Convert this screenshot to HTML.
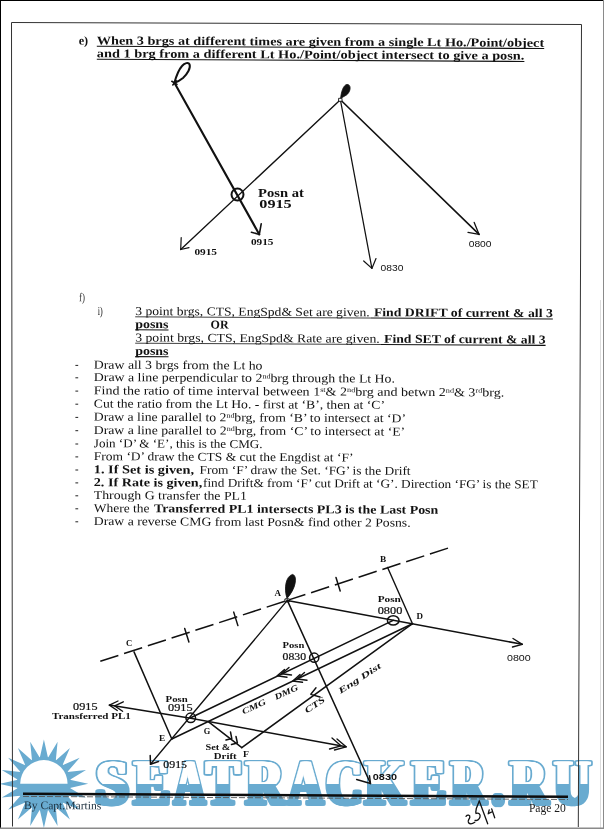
<!DOCTYPE html>
<html><head><meta charset="utf-8"><title>Page 20</title>
<style>
html,body{margin:0;padding:0;background:#fff;}
body{width:604px;height:829px;overflow:hidden;position:relative;font-family:"Liberation Serif",serif;}
svg{position:absolute;left:0;top:0;display:block;will-change:transform;}
text{white-space:pre;}
</style></head><body>
<svg width="604" height="829" viewBox="0 0 604 829">
<defs>
<linearGradient id="wm" gradientUnits="userSpaceOnUse" x1="0" y1="700" x2="0" y2="860">
<stop offset="0" stop-color="#ffffff"/><stop offset="0.5240" stop-color="#ffffff"/><stop offset="0.5241" stop-color="#69abd0"/><stop offset="1" stop-color="#69abd0"/>
</linearGradient>
</defs>
<rect x="0" y="0" width="604" height="829" fill="#ffffff"/>

<g id="watermark">
<polygon points="43.9,739.5 48.0,757.8 57.6,741.7 55.8,760.4 69.9,748.0 62.5,765.2 79.7,757.8 67.3,771.9 86.0,770.1 69.9,779.7 88.2,783.8 69.9,787.9 86.0,797.5 67.3,795.7 79.7,809.8 62.5,802.4 69.9,819.6 55.8,807.2 57.6,825.9 48.0,809.8 43.9,828.1 39.8,809.8 30.2,825.9 32.0,807.2 17.9,819.6 25.3,802.4 8.1,809.8 20.5,795.7 1.8,797.5 17.9,787.9 -0.4,783.8 17.9,779.7 1.8,770.1 20.5,771.9 8.1,757.8 25.3,765.2 17.9,748.0 32.0,760.4 30.2,741.7 39.8,757.8" fill="#69abd0"/>
<circle cx="43.9" cy="783.8" r="26.8" fill="#69abd0"/>
<path d="M20.2,783.8 A23.7,23.7 0 0 1 67.6,783.8 Z" fill="#fff"/>
<g transform="translate(-2.2 0)" fill="#69abd0" stroke="#69abd0" stroke-width="3.4" style="font-family:&quot;Liberation Serif&quot;,serif;font-weight:bold;font-size:63.6px;" stroke-linejoin="round"><text x="0" y="804.5" transform="translate(95.96 0) scale(0.9120 1)">S</text><text x="0" y="804.5" transform="translate(134.14 0) scale(0.8329 1)">E</text><text x="0" y="804.5" transform="translate(174.64 0) scale(0.6515 1)">A</text><text x="0" y="804.5" transform="translate(206.27 0) scale(0.7836 1)">T</text><text x="0" y="804.5" transform="translate(246.15 0) scale(0.8195 1)">R</text><text x="0" y="804.5" transform="translate(288.58 0) scale(0.7407 1)">A</text><text x="0" y="804.5" transform="translate(326.33 0) scale(0.7769 1)">C</text><text x="0" y="804.5" transform="translate(365.38 0) scale(0.7917 1)">K</text><text x="0" y="804.5" transform="translate(412.20 0) scale(0.7804 1)">E</text><text x="0" y="804.5" transform="translate(451.24 0) scale(0.7358 1)">R</text><text x="0" y="804.5" transform="translate(510.48 0) scale(0.7975 1)">R</text><text x="0" y="804.5" transform="translate(554.30 0) scale(0.7883 1)">U</text><ellipse cx="498.1" cy="800.2" rx="3.1" ry="5.4"/></g>
<g transform="translate(-1.1 0)" fill="#69abd0" stroke="#69abd0" stroke-width="3.4" style="font-family:&quot;Liberation Serif&quot;,serif;font-weight:bold;font-size:63.6px;" stroke-linejoin="round"><text x="0" y="804.5" transform="translate(95.96 0) scale(0.9120 1)">S</text><text x="0" y="804.5" transform="translate(134.14 0) scale(0.8329 1)">E</text><text x="0" y="804.5" transform="translate(174.64 0) scale(0.6515 1)">A</text><text x="0" y="804.5" transform="translate(206.27 0) scale(0.7836 1)">T</text><text x="0" y="804.5" transform="translate(246.15 0) scale(0.8195 1)">R</text><text x="0" y="804.5" transform="translate(288.58 0) scale(0.7407 1)">A</text><text x="0" y="804.5" transform="translate(326.33 0) scale(0.7769 1)">C</text><text x="0" y="804.5" transform="translate(365.38 0) scale(0.7917 1)">K</text><text x="0" y="804.5" transform="translate(412.20 0) scale(0.7804 1)">E</text><text x="0" y="804.5" transform="translate(451.24 0) scale(0.7358 1)">R</text><text x="0" y="804.5" transform="translate(510.48 0) scale(0.7975 1)">R</text><text x="0" y="804.5" transform="translate(554.30 0) scale(0.7883 1)">U</text><ellipse cx="498.1" cy="800.2" rx="3.1" ry="5.4"/></g>
<g transform="translate(0 0)" fill="#69abd0" stroke="#69abd0" stroke-width="3.4" style="font-family:&quot;Liberation Serif&quot;,serif;font-weight:bold;font-size:63.6px;" stroke-linejoin="round"><text x="0" y="804.5" transform="translate(95.96 0) scale(0.9120 1)">S</text><text x="0" y="804.5" transform="translate(134.14 0) scale(0.8329 1)">E</text><text x="0" y="804.5" transform="translate(174.64 0) scale(0.6515 1)">A</text><text x="0" y="804.5" transform="translate(206.27 0) scale(0.7836 1)">T</text><text x="0" y="804.5" transform="translate(246.15 0) scale(0.8195 1)">R</text><text x="0" y="804.5" transform="translate(288.58 0) scale(0.7407 1)">A</text><text x="0" y="804.5" transform="translate(326.33 0) scale(0.7769 1)">C</text><text x="0" y="804.5" transform="translate(365.38 0) scale(0.7917 1)">K</text><text x="0" y="804.5" transform="translate(412.20 0) scale(0.7804 1)">E</text><text x="0" y="804.5" transform="translate(451.24 0) scale(0.7358 1)">R</text><text x="0" y="804.5" transform="translate(510.48 0) scale(0.7975 1)">R</text><text x="0" y="804.5" transform="translate(554.30 0) scale(0.7883 1)">U</text><ellipse cx="498.1" cy="800.2" rx="3.1" ry="5.4"/></g>
<g transform="translate(1.1 0)" fill="#69abd0" stroke="#69abd0" stroke-width="3.4" style="font-family:&quot;Liberation Serif&quot;,serif;font-weight:bold;font-size:63.6px;" stroke-linejoin="round"><text x="0" y="804.5" transform="translate(95.96 0) scale(0.9120 1)">S</text><text x="0" y="804.5" transform="translate(134.14 0) scale(0.8329 1)">E</text><text x="0" y="804.5" transform="translate(174.64 0) scale(0.6515 1)">A</text><text x="0" y="804.5" transform="translate(206.27 0) scale(0.7836 1)">T</text><text x="0" y="804.5" transform="translate(246.15 0) scale(0.8195 1)">R</text><text x="0" y="804.5" transform="translate(288.58 0) scale(0.7407 1)">A</text><text x="0" y="804.5" transform="translate(326.33 0) scale(0.7769 1)">C</text><text x="0" y="804.5" transform="translate(365.38 0) scale(0.7917 1)">K</text><text x="0" y="804.5" transform="translate(412.20 0) scale(0.7804 1)">E</text><text x="0" y="804.5" transform="translate(451.24 0) scale(0.7358 1)">R</text><text x="0" y="804.5" transform="translate(510.48 0) scale(0.7975 1)">R</text><text x="0" y="804.5" transform="translate(554.30 0) scale(0.7883 1)">U</text><ellipse cx="498.1" cy="800.2" rx="3.1" ry="5.4"/></g>
<g transform="translate(2.2 0)" fill="#69abd0" stroke="#69abd0" stroke-width="3.4" style="font-family:&quot;Liberation Serif&quot;,serif;font-weight:bold;font-size:63.6px;" stroke-linejoin="round"><text x="0" y="804.5" transform="translate(95.96 0) scale(0.9120 1)">S</text><text x="0" y="804.5" transform="translate(134.14 0) scale(0.8329 1)">E</text><text x="0" y="804.5" transform="translate(174.64 0) scale(0.6515 1)">A</text><text x="0" y="804.5" transform="translate(206.27 0) scale(0.7836 1)">T</text><text x="0" y="804.5" transform="translate(246.15 0) scale(0.8195 1)">R</text><text x="0" y="804.5" transform="translate(288.58 0) scale(0.7407 1)">A</text><text x="0" y="804.5" transform="translate(326.33 0) scale(0.7769 1)">C</text><text x="0" y="804.5" transform="translate(365.38 0) scale(0.7917 1)">K</text><text x="0" y="804.5" transform="translate(412.20 0) scale(0.7804 1)">E</text><text x="0" y="804.5" transform="translate(451.24 0) scale(0.7358 1)">R</text><text x="0" y="804.5" transform="translate(510.48 0) scale(0.7975 1)">R</text><text x="0" y="804.5" transform="translate(554.30 0) scale(0.7883 1)">U</text><ellipse cx="498.1" cy="800.2" rx="3.1" ry="5.4"/></g>
<g transform="translate(-1.8 0)" fill="url(#wm)" stroke="url(#wm)" stroke-width="0.3" style="font-family:&quot;Liberation Serif&quot;,serif;font-weight:bold;font-size:63.6px;" stroke-linejoin="round"><text x="0" y="804.5" transform="translate(95.96 0) scale(0.9120 1)">S</text><text x="0" y="804.5" transform="translate(134.14 0) scale(0.8329 1)">E</text><text x="0" y="804.5" transform="translate(174.64 0) scale(0.6515 1)">A</text><text x="0" y="804.5" transform="translate(206.27 0) scale(0.7836 1)">T</text><text x="0" y="804.5" transform="translate(246.15 0) scale(0.8195 1)">R</text><text x="0" y="804.5" transform="translate(288.58 0) scale(0.7407 1)">A</text><text x="0" y="804.5" transform="translate(326.33 0) scale(0.7769 1)">C</text><text x="0" y="804.5" transform="translate(365.38 0) scale(0.7917 1)">K</text><text x="0" y="804.5" transform="translate(412.20 0) scale(0.7804 1)">E</text><text x="0" y="804.5" transform="translate(451.24 0) scale(0.7358 1)">R</text><text x="0" y="804.5" transform="translate(510.48 0) scale(0.7975 1)">R</text><text x="0" y="804.5" transform="translate(554.30 0) scale(0.7883 1)">U</text><ellipse cx="498.1" cy="800.2" rx="3.1" ry="5.4"/></g>
<g transform="translate(-0.9 0)" fill="url(#wm)" stroke="url(#wm)" stroke-width="0.3" style="font-family:&quot;Liberation Serif&quot;,serif;font-weight:bold;font-size:63.6px;" stroke-linejoin="round"><text x="0" y="804.5" transform="translate(95.96 0) scale(0.9120 1)">S</text><text x="0" y="804.5" transform="translate(134.14 0) scale(0.8329 1)">E</text><text x="0" y="804.5" transform="translate(174.64 0) scale(0.6515 1)">A</text><text x="0" y="804.5" transform="translate(206.27 0) scale(0.7836 1)">T</text><text x="0" y="804.5" transform="translate(246.15 0) scale(0.8195 1)">R</text><text x="0" y="804.5" transform="translate(288.58 0) scale(0.7407 1)">A</text><text x="0" y="804.5" transform="translate(326.33 0) scale(0.7769 1)">C</text><text x="0" y="804.5" transform="translate(365.38 0) scale(0.7917 1)">K</text><text x="0" y="804.5" transform="translate(412.20 0) scale(0.7804 1)">E</text><text x="0" y="804.5" transform="translate(451.24 0) scale(0.7358 1)">R</text><text x="0" y="804.5" transform="translate(510.48 0) scale(0.7975 1)">R</text><text x="0" y="804.5" transform="translate(554.30 0) scale(0.7883 1)">U</text><ellipse cx="498.1" cy="800.2" rx="3.1" ry="5.4"/></g>
<g transform="translate(0 0)" fill="url(#wm)" stroke="url(#wm)" stroke-width="0.3" style="font-family:&quot;Liberation Serif&quot;,serif;font-weight:bold;font-size:63.6px;" stroke-linejoin="round"><text x="0" y="804.5" transform="translate(95.96 0) scale(0.9120 1)">S</text><text x="0" y="804.5" transform="translate(134.14 0) scale(0.8329 1)">E</text><text x="0" y="804.5" transform="translate(174.64 0) scale(0.6515 1)">A</text><text x="0" y="804.5" transform="translate(206.27 0) scale(0.7836 1)">T</text><text x="0" y="804.5" transform="translate(246.15 0) scale(0.8195 1)">R</text><text x="0" y="804.5" transform="translate(288.58 0) scale(0.7407 1)">A</text><text x="0" y="804.5" transform="translate(326.33 0) scale(0.7769 1)">C</text><text x="0" y="804.5" transform="translate(365.38 0) scale(0.7917 1)">K</text><text x="0" y="804.5" transform="translate(412.20 0) scale(0.7804 1)">E</text><text x="0" y="804.5" transform="translate(451.24 0) scale(0.7358 1)">R</text><text x="0" y="804.5" transform="translate(510.48 0) scale(0.7975 1)">R</text><text x="0" y="804.5" transform="translate(554.30 0) scale(0.7883 1)">U</text><ellipse cx="498.1" cy="800.2" rx="3.1" ry="5.4"/></g>
<g transform="translate(0.9 0)" fill="url(#wm)" stroke="url(#wm)" stroke-width="0.3" style="font-family:&quot;Liberation Serif&quot;,serif;font-weight:bold;font-size:63.6px;" stroke-linejoin="round"><text x="0" y="804.5" transform="translate(95.96 0) scale(0.9120 1)">S</text><text x="0" y="804.5" transform="translate(134.14 0) scale(0.8329 1)">E</text><text x="0" y="804.5" transform="translate(174.64 0) scale(0.6515 1)">A</text><text x="0" y="804.5" transform="translate(206.27 0) scale(0.7836 1)">T</text><text x="0" y="804.5" transform="translate(246.15 0) scale(0.8195 1)">R</text><text x="0" y="804.5" transform="translate(288.58 0) scale(0.7407 1)">A</text><text x="0" y="804.5" transform="translate(326.33 0) scale(0.7769 1)">C</text><text x="0" y="804.5" transform="translate(365.38 0) scale(0.7917 1)">K</text><text x="0" y="804.5" transform="translate(412.20 0) scale(0.7804 1)">E</text><text x="0" y="804.5" transform="translate(451.24 0) scale(0.7358 1)">R</text><text x="0" y="804.5" transform="translate(510.48 0) scale(0.7975 1)">R</text><text x="0" y="804.5" transform="translate(554.30 0) scale(0.7883 1)">U</text><ellipse cx="498.1" cy="800.2" rx="3.1" ry="5.4"/></g>
<g transform="translate(1.8 0)" fill="url(#wm)" stroke="url(#wm)" stroke-width="0.3" style="font-family:&quot;Liberation Serif&quot;,serif;font-weight:bold;font-size:63.6px;" stroke-linejoin="round"><text x="0" y="804.5" transform="translate(95.96 0) scale(0.9120 1)">S</text><text x="0" y="804.5" transform="translate(134.14 0) scale(0.8329 1)">E</text><text x="0" y="804.5" transform="translate(174.64 0) scale(0.6515 1)">A</text><text x="0" y="804.5" transform="translate(206.27 0) scale(0.7836 1)">T</text><text x="0" y="804.5" transform="translate(246.15 0) scale(0.8195 1)">R</text><text x="0" y="804.5" transform="translate(288.58 0) scale(0.7407 1)">A</text><text x="0" y="804.5" transform="translate(326.33 0) scale(0.7769 1)">C</text><text x="0" y="804.5" transform="translate(365.38 0) scale(0.7917 1)">K</text><text x="0" y="804.5" transform="translate(412.20 0) scale(0.7804 1)">E</text><text x="0" y="804.5" transform="translate(451.24 0) scale(0.7358 1)">R</text><text x="0" y="804.5" transform="translate(510.48 0) scale(0.7975 1)">R</text><text x="0" y="804.5" transform="translate(554.30 0) scale(0.7883 1)">U</text><ellipse cx="498.1" cy="800.2" rx="3.1" ry="5.4"/></g>
</g>
<g id="frame" stroke="#333" stroke-width="1" fill="none">
<path d="M12.5,826.5 L11.5,22.5 L581.5,24.5 L578.3,827"/>
</g>
<line x1="600.5" y1="300" x2="600.5" y2="829" stroke="#ddd" stroke-width="1"/>
<rect x="0" y="0" width="604" height="1" fill="#000"/>
<rect x="0" y="0" width="1" height="829" fill="#000"/>
<rect x="603" y="0" width="1" height="829" fill="#8a8a8a"/>
<rect x="0" y="827.5" width="604" height="1.5" fill="#8a8a8a"/>
<text x="78.7" y="44.4" transform="rotate(0.3 78.7 44.4)" style="font-family:&quot;Liberation Serif&quot;,serif;font-size:12px;font-weight:bold;" fill="#111" textLength="9.5" lengthAdjust="spacingAndGlyphs">e)</text>
<text x="96.8" y="44.4" transform="rotate(0.3 96.8 44.4)" style="font-family:&quot;Liberation Serif&quot;,serif;font-size:12px;font-weight:bold;" fill="#111" textLength="447.4" lengthAdjust="spacingAndGlyphs">When 3 brgs at different times are given from a single Lt Ho./Point/object</text>
<line x1="96.8" y1="46.2" x2="544.2" y2="46.2" transform="rotate(0.3 96.8 46.2)" stroke="#111" stroke-width="1.1"/>
<text x="96.8" y="57.3" transform="rotate(0.3 96.8 57.3)" style="font-family:&quot;Liberation Serif&quot;,serif;font-size:12px;font-weight:bold;" fill="#111" textLength="427.6" lengthAdjust="spacingAndGlyphs">and 1 brg from a different Lt Ho./Point/object intersect to give a posn.</text>
<line x1="96.8" y1="59.2" x2="524.4" y2="59.2" transform="rotate(0.3 96.8 59.2)" stroke="#111" stroke-width="1.1"/>
<g id="d1" stroke="#111" fill="none" stroke-linecap="round" stroke-linejoin="round">
<path d="M174.4,82.8 C176,77 178.5,70 182,66 C184.5,63 188.5,61.8 189.6,64.5 C190.8,68 187.5,74 183,78 C180,80.5 177,82 174.4,82.8" stroke-width="2"/>
<path d="M171.8,81.3 L177,84.4 M172.8,85 L176.2,80.8" stroke-width="1.6"/>
<line x1="174.4" y1="82.8" x2="259.3" y2="234.4" stroke-width="2.1"/>
<path d="M261.2,223.8 L259.3,234.4 L251.4,232.2" stroke-width="1.6"/>
<path d="M340.6,98.5 C341,93 343,85 347,84.4 C351.5,84.5 351,91.5 346.5,95 C344,96.5 342,97.5 340.6,98.5 Z" fill="#111" stroke-width="0.8"/>
<line x1="340.4" y1="99.8" x2="180.7" y2="249.5" stroke-width="1.35"/>
<path d="M181.2,237.5 L180.7,249.5 L189,247.6" stroke-width="1.2"/>
<line x1="340.4" y1="99.8" x2="371.9" y2="268.4" stroke-width="1.25"/>
<path d="M363.7,261 L371.9,268.4 L376,258.5" stroke-width="1.2"/>
<line x1="340.4" y1="99.8" x2="479.1" y2="234.4" stroke-width="1.6"/>
<path d="M468,232.4 L479.1,234.4 L474.2,222.4" stroke-width="1.3"/>
<circle cx="237.5" cy="194.6" r="6" stroke-width="2"/>
<rect x="339" y="98.3" width="3" height="3" fill="#fff" stroke-width="0.9"/>
</g>
<text x="258" y="197.3" transform="rotate(0 258 197.3)" style="font-family:&quot;Liberation Serif&quot;,serif;font-size:12.5px;font-weight:bold;" fill="#111" textLength="45.8" lengthAdjust="spacingAndGlyphs">Posn at</text>
<text x="259.3" y="207.9" transform="rotate(0 259.3 207.9)" style="font-family:&quot;Liberation Serif&quot;,serif;font-size:12.5px;font-weight:bold;" fill="#111" textLength="32.4" lengthAdjust="spacingAndGlyphs">0915</text>
<text x="250.9" y="244.6" transform="rotate(0 250.9 244.6)" style="font-family:&quot;Liberation Serif&quot;,serif;font-size:9px;font-weight:bold;" fill="#111" textLength="22.5" lengthAdjust="spacingAndGlyphs">0915</text>
<text x="194.4" y="255.3" transform="rotate(0 194.4 255.3)" style="font-family:&quot;Liberation Serif&quot;,serif;font-size:9px;font-weight:bold;" fill="#111" textLength="22.6" lengthAdjust="spacingAndGlyphs">0915</text>
<text x="380.5" y="270.9" transform="rotate(0 380.5 270.9)" style="font-family:&quot;Liberation Sans&quot;,serif;font-size:8.7px;" fill="#111" textLength="22.9" lengthAdjust="spacingAndGlyphs">0830</text>
<text x="468.7" y="246.8" transform="rotate(0 468.7 246.8)" style="font-family:&quot;Liberation Sans&quot;,serif;font-size:8.7px;" fill="#111" textLength="22.8" lengthAdjust="spacingAndGlyphs">0800</text>
<text x="78.9" y="301.3" transform="rotate(0.3 78.9 301.3)" style="font-family:&quot;Liberation Serif&quot;,serif;font-size:12px;" fill="#333" textLength="6.0" lengthAdjust="spacingAndGlyphs">f)</text>
<text x="97.8" y="315.0" transform="rotate(0.3 97.8 315.0)" style="font-family:&quot;Liberation Serif&quot;,serif;font-size:12px;" fill="#111" textLength="5.0" lengthAdjust="spacingAndGlyphs">i)</text>
<text x="135.2" y="315.0" transform="rotate(0.3 135.2 315.0)" style="font-family:&quot;Liberation Serif&quot;,serif;font-size:12px;" fill="#111" textLength="234.5" lengthAdjust="spacingAndGlyphs">3 point brgs, CTS, EngSpd&amp; Set are given.</text>
<line x1="135.2" y1="316.8" x2="371" y2="316.8" transform="rotate(0.3 135.2 316.8)" stroke="#111" stroke-width="0.8"/>
<text x="373.9" y="316.2" transform="rotate(0.3 373.9 316.2)" style="font-family:&quot;Liberation Serif&quot;,serif;font-size:12px;font-weight:bold;" fill="#111" textLength="178.9" lengthAdjust="spacingAndGlyphs">Find DRIFT of current &amp; all 3</text>
<line x1="371" y1="318.0" x2="552.8" y2="318.0" transform="rotate(0.3 371 318.0)" stroke="#111" stroke-width="1.1"/>
<text x="135.2" y="328.0" transform="rotate(0.3 135.2 328.0)" style="font-family:&quot;Liberation Serif&quot;,serif;font-size:12px;font-weight:bold;" fill="#111" textLength="33.3" lengthAdjust="spacingAndGlyphs">posns</text>
<line x1="135.2" y1="329.8" x2="168.5" y2="329.8" transform="rotate(0.3 135.2 329.8)" stroke="#111" stroke-width="1.1"/>
<text x="210.6" y="328.4" transform="rotate(0.3 210.6 328.4)" style="font-family:&quot;Liberation Serif&quot;,serif;font-size:12px;font-weight:bold;" fill="#111" textLength="18.0" lengthAdjust="spacingAndGlyphs">OR</text>
<text x="135.2" y="341.4" transform="rotate(0.3 135.2 341.4)" style="font-family:&quot;Liberation Serif&quot;,serif;font-size:12px;" fill="#111" textLength="244.5" lengthAdjust="spacingAndGlyphs">3 point brgs, CTS, EngSpd&amp; Rate are given.</text>
<line x1="135.2" y1="343.2" x2="381" y2="343.2" transform="rotate(0.3 135.2 343.2)" stroke="#111" stroke-width="0.8"/>
<text x="384.1" y="342.7" transform="rotate(0.3 384.1 342.7)" style="font-family:&quot;Liberation Serif&quot;,serif;font-size:12px;font-weight:bold;" fill="#111" textLength="161.5" lengthAdjust="spacingAndGlyphs">Find SET of current &amp; all 3</text>
<line x1="381" y1="344.5" x2="545.6" y2="344.5" transform="rotate(0.3 381 344.5)" stroke="#111" stroke-width="1.1"/>
<text x="135.2" y="354.8" transform="rotate(0.3 135.2 354.8)" style="font-family:&quot;Liberation Serif&quot;,serif;font-size:12px;font-weight:bold;" fill="#111" textLength="33.3" lengthAdjust="spacingAndGlyphs">posns</text>
<line x1="135.2" y1="356.6" x2="168.5" y2="356.6" transform="rotate(0.3 135.2 356.6)" stroke="#111" stroke-width="1.1"/>
<line x1="75.4" y1="365.40000000000003" x2="78.2" y2="365.40000000000003" stroke="#222" stroke-width="1"/>
<text x="93.8" y="368.6" transform="rotate(0.3 93.8 368.6)" style="font-family:&quot;Liberation Serif&quot;,serif;font-size:12px;" fill="#111" textLength="168.7" lengthAdjust="spacingAndGlyphs">Draw all 3 brgs from the Lt ho</text>
<line x1="75.4" y1="377.8" x2="78.2" y2="377.8" stroke="#222" stroke-width="1"/>
<text x="93.8" y="381.0" transform="rotate(0.3 93.8 381.0)" style="font-family:&quot;Liberation Serif&quot;,serif;font-size:12px;" fill="#111" textLength="301.2" lengthAdjust="spacingAndGlyphs">Draw a line perpendicular to 2<tspan style="font-size:7px" dy="-3.5">nd</tspan><tspan dy="3.5">&#8203;</tspan>brg through the Lt Ho.</text>
<line x1="75.4" y1="391.1" x2="78.2" y2="391.1" stroke="#222" stroke-width="1"/>
<text x="93.8" y="394.3" transform="rotate(0.3 93.8 394.3)" style="font-family:&quot;Liberation Serif&quot;,serif;font-size:12px;" fill="#111" textLength="410.4" lengthAdjust="spacingAndGlyphs">Find the ratio of time interval between 1<tspan style="font-size:7px" dy="-3.5">st</tspan><tspan dy="3.5">&#8203;</tspan>&amp; 2<tspan style="font-size:7px" dy="-3.5">nd</tspan><tspan dy="3.5">&#8203;</tspan>brg and betwn 2<tspan style="font-size:7px" dy="-3.5">nd</tspan><tspan dy="3.5">&#8203;</tspan>&amp; 3<tspan style="font-size:7px" dy="-3.5">rd</tspan><tspan dy="3.5">&#8203;</tspan>brg.</text>
<line x1="75.4" y1="404.2" x2="78.2" y2="404.2" stroke="#222" stroke-width="1"/>
<text x="93.8" y="407.4" transform="rotate(0.3 93.8 407.4)" style="font-family:&quot;Liberation Serif&quot;,serif;font-size:12px;" fill="#111" textLength="291.2" lengthAdjust="spacingAndGlyphs">Cut the ratio from the Lt Ho. - first at &#8216;B&#8217;, then at &#8216;C&#8217;</text>
<line x1="75.4" y1="417.40000000000003" x2="78.2" y2="417.40000000000003" stroke="#222" stroke-width="1"/>
<text x="93.8" y="420.6" transform="rotate(0.3 93.8 420.6)" style="font-family:&quot;Liberation Serif&quot;,serif;font-size:12px;" fill="#111" textLength="312.2" lengthAdjust="spacingAndGlyphs">Draw a line parallel to 2<tspan style="font-size:7px" dy="-3.5">nd</tspan><tspan dy="3.5">&#8203;</tspan>brg, from &#8216;B&#8217; to intersect at &#8216;D&#8217;</text>
<line x1="75.4" y1="430.7" x2="78.2" y2="430.7" stroke="#222" stroke-width="1"/>
<text x="93.8" y="433.9" transform="rotate(0.3 93.8 433.9)" style="font-family:&quot;Liberation Serif&quot;,serif;font-size:12px;" fill="#111" textLength="311.4" lengthAdjust="spacingAndGlyphs">Draw a line parallel to 2<tspan style="font-size:7px" dy="-3.5">nd</tspan><tspan dy="3.5">&#8203;</tspan>brg, from &#8216;C&#8217; to intersect at &#8216;E&#8217;</text>
<line x1="75.4" y1="444.0" x2="78.2" y2="444.0" stroke="#222" stroke-width="1"/>
<text x="93.8" y="447.2" transform="rotate(0.3 93.8 447.2)" style="font-family:&quot;Liberation Serif&quot;,serif;font-size:12px;" fill="#111" textLength="168.7" lengthAdjust="spacingAndGlyphs">Join &#8216;D&#8217; &amp; &#8216;E&#8217;, this is the CMG.</text>
<line x1="75.4" y1="456.90000000000003" x2="78.2" y2="456.90000000000003" stroke="#222" stroke-width="1"/>
<text x="93.8" y="460.1" transform="rotate(0.3 93.8 460.1)" style="font-family:&quot;Liberation Serif&quot;,serif;font-size:12px;" fill="#111" textLength="259.6" lengthAdjust="spacingAndGlyphs">From &#8216;D&#8217; draw the CTS &amp; cut the Engdist at &#8216;F&#8217;</text>
<line x1="75.4" y1="470.0" x2="78.2" y2="470.0" stroke="#222" stroke-width="1"/>
<text x="93.8" y="473.2" transform="rotate(0.3 93.8 473.2)" style="font-family:&quot;Liberation Serif&quot;,serif;font-size:12px;font-weight:bold;" fill="#111" textLength="100.2" lengthAdjust="spacingAndGlyphs">1. If Set is given,</text>
<text x="199.5" y="473.75" transform="rotate(0.3 199.5 473.75)" style="font-family:&quot;Liberation Serif&quot;,serif;font-size:12px;" fill="#111" textLength="211.1" lengthAdjust="spacingAndGlyphs">From &#8216;F&#8217; draw the Set. &#8216;FG&#8217; is the Drift</text>
<line x1="75.4" y1="482.90000000000003" x2="78.2" y2="482.90000000000003" stroke="#222" stroke-width="1"/>
<text x="93.8" y="486.1" transform="rotate(0.3 93.8 486.1)" style="font-family:&quot;Liberation Serif&quot;,serif;font-size:12px;font-weight:bold;" fill="#111" textLength="108.4" lengthAdjust="spacingAndGlyphs">2. If Rate is given,</text>
<text x="203.0" y="486.67" transform="rotate(0.3 203.0 486.67)" style="font-family:&quot;Liberation Serif&quot;,serif;font-size:12px;" fill="#111" textLength="334.8" lengthAdjust="spacingAndGlyphs">find Drift&amp; from &#8216;F&#8217; cut Drift at &#8216;G&#8217;. Direction &#8216;FG&#8217; is the SET</text>
<line x1="75.4" y1="495.8" x2="78.2" y2="495.8" stroke="#222" stroke-width="1"/>
<text x="93.8" y="499.0" transform="rotate(0.3 93.8 499.0)" style="font-family:&quot;Liberation Serif&quot;,serif;font-size:12px;" fill="#111" textLength="153.1" lengthAdjust="spacingAndGlyphs">Through G transfer the PL1</text>
<line x1="75.4" y1="508.8" x2="78.2" y2="508.8" stroke="#222" stroke-width="1"/>
<text x="93.8" y="512.0" transform="rotate(0.3 93.8 512.0)" style="font-family:&quot;Liberation Serif&quot;,serif;font-size:12px;" fill="#111" textLength="55.6" lengthAdjust="spacingAndGlyphs">Where the</text>
<text x="153.9" y="512.31" transform="rotate(0.3 153.9 512.31)" style="font-family:&quot;Liberation Serif&quot;,serif;font-size:12px;font-weight:bold;" fill="#111" textLength="284.4" lengthAdjust="spacingAndGlyphs">Transferred PL1 intersects PL3 is the Last Posn</text>
<line x1="75.4" y1="521.8" x2="78.2" y2="521.8" stroke="#222" stroke-width="1"/>
<text x="93.8" y="525.0" transform="rotate(0.3 93.8 525.0)" style="font-family:&quot;Liberation Serif&quot;,serif;font-size:12px;" fill="#111" textLength="316.8" lengthAdjust="spacingAndGlyphs">Draw a reverse CMG from last Posn&amp; find other 2 Posns.</text>
<g id="d2" stroke="#111" fill="none" stroke-linecap="round" stroke-linejoin="round">
<line x1="100.3" y1="661.3" x2="287.3" y2="600.4" stroke-width="1.5" stroke-dasharray="19 6" stroke-dashoffset="0" stroke-linecap="butt"/>
<line x1="287.3" y1="600.4" x2="450.5" y2="547.3" stroke-width="1.5" stroke-dasharray="19 6" stroke-linecap="butt"/>
<line x1="184.7" y1="628.5" x2="188.89999999999998" y2="642.0" stroke-width="1.5"/>
<line x1="233.7" y1="612.1" x2="237.89999999999998" y2="625.6" stroke-width="1.5"/>
<line x1="336.0" y1="577.5" x2="340.2" y2="591" stroke-width="1.5"/>
<path d="M287,598.5 C283.5,588 286,576 292.6,574.4 C297.5,575.5 296.5,588 287,598.5 Z" fill="#111" stroke-width="0.8"/>
<rect x="285.3" y="598.9" width="4" height="3" fill="#fff" stroke-width="1"/>
<line x1="134" y1="651.9" x2="171.8" y2="739" stroke-width="1.5"/>
<line x1="387.6" y1="567.5" x2="412.5" y2="623.7" stroke-width="1.4"/>
<line x1="287.3" y1="600.4" x2="522.3" y2="644.3" stroke-width="1.5"/>
<path d="M513,638.5 L522.3,644.3 L512.5,647" stroke-width="1.4"/>
<line x1="287.3" y1="600.4" x2="370.5" y2="783.5" stroke-width="1.5"/>
<path d="M356.6,779.5 L370.5,783.5 L369.5,775.6" stroke-width="1.4"/>
<line x1="287.3" y1="600.4" x2="150.5" y2="764.2" stroke-width="1.4"/>
<path d="M150.2,755.5 L150.5,764.2 L158.5,761.5" stroke-width="1.5"/>
<line x1="190.7" y1="717.8" x2="393.2" y2="620.4" stroke-width="1.5"/>
<line x1="171.8" y1="739" x2="412.5" y2="623.7" stroke-width="1.5"/>
<line x1="241.8" y1="747.6" x2="412.5" y2="623.7" stroke-width="1.5"/>
<line x1="208.6" y1="721.8" x2="241.8" y2="747.6" stroke-width="1.5"/>
<path d="M230.5,732 L231.8,738.6 L226,740 M236,736.5 L237.4,743 L231.5,744.5" stroke-width="1.5"/>
<path d="M109.4,705.1 L190.7,718.3 L346.1,746.8" stroke-width="1.5"/>
<path d="M118,701 L109.4,705.1 L117.3,710.5 M123.3,701.8 L114.7,705.9 L122.6,711.3" stroke-width="1.3"/>
<path d="M337,739 L346.1,746.8 L334.5,750 M332,738 L341,745.8 L329.5,749" stroke-width="1.3"/>
<path d="M284.5,669.5 L277.2,675.8 L287,677.2 M289,667.5 L281.7,673.8 L291.5,675" stroke-width="1.4"/>
<path d="M300,674.5 L292.8,681 L302.5,682.3 M304.5,672.5 L297.3,679 L307,680.2" stroke-width="1.4"/>
<path d="M316,687.7 L310.8,694.3 L320,697" stroke-width="1.4"/>
<circle cx="314.2" cy="657.7" r="4.6" stroke-width="1.5"/>
<circle cx="190.7" cy="717.8" r="4.8" stroke-width="1.5"/>
<ellipse cx="393.2" cy="620.4" rx="5.8" ry="4.6" stroke-width="1.5"/>
</g>
<text x="274.4" y="595.8" transform="rotate(0 274.4 595.8)" style="font-family:&quot;Liberation Serif&quot;,serif;font-size:8.5px;font-weight:bold;" fill="#111" textLength="6.5" lengthAdjust="spacingAndGlyphs">A</text>
<text x="380.0" y="562.0" transform="rotate(0 380.0 562.0)" style="font-family:&quot;Liberation Serif&quot;,serif;font-size:8.5px;font-weight:bold;" fill="#111" textLength="6.2" lengthAdjust="spacingAndGlyphs">B</text>
<text x="416.5" y="619.0" transform="rotate(0 416.5 619.0)" style="font-family:&quot;Liberation Serif&quot;,serif;font-size:8.5px;font-weight:bold;" fill="#111" textLength="6.5" lengthAdjust="spacingAndGlyphs">D</text>
<text x="126.0" y="646.0" transform="rotate(0 126.0 646.0)" style="font-family:&quot;Liberation Serif&quot;,serif;font-size:8.5px;font-weight:bold;" fill="#111" textLength="6.2" lengthAdjust="spacingAndGlyphs">C</text>
<text x="159.0" y="741.0" transform="rotate(0 159.0 741.0)" style="font-family:&quot;Liberation Serif&quot;,serif;font-size:8.5px;font-weight:bold;" fill="#111" textLength="6.2" lengthAdjust="spacingAndGlyphs">E</text>
<text x="203.8" y="734.3" transform="rotate(0 203.8 734.3)" style="font-family:&quot;Liberation Serif&quot;,serif;font-size:8.5px;font-weight:bold;" fill="#111" textLength="6.5" lengthAdjust="spacingAndGlyphs">G</text>
<text x="243.0" y="757.0" transform="rotate(0 243.0 757.0)" style="font-family:&quot;Liberation Serif&quot;,serif;font-size:8.5px;font-weight:bold;" fill="#111" textLength="6.0" lengthAdjust="spacingAndGlyphs">F</text>
<text x="377.7" y="602.2" transform="rotate(0 377.7 602.2)" style="font-family:&quot;Liberation Serif&quot;,serif;font-size:8.5px;font-weight:bold;" fill="#111" textLength="23.2" lengthAdjust="spacingAndGlyphs">Posn</text>
<text x="377.7" y="614.3" transform="rotate(0 377.7 614.3)" style="font-family:&quot;Liberation Serif&quot;,serif;font-size:9.5px;" fill="#111" textLength="24.6" lengthAdjust="spacingAndGlyphs" stroke="#111" stroke-width="0.2">0800</text>
<text x="282.5" y="648.4" transform="rotate(0 282.5 648.4)" style="font-family:&quot;Liberation Serif&quot;,serif;font-size:8.5px;font-weight:bold;" fill="#111" textLength="21.8" lengthAdjust="spacingAndGlyphs">Posn</text>
<text x="282.5" y="660.3" transform="rotate(0 282.5 660.3)" style="font-family:&quot;Liberation Serif&quot;,serif;font-size:9.5px;" fill="#111" textLength="23.5" lengthAdjust="spacingAndGlyphs" stroke="#111" stroke-width="0.2">0830</text>
<text x="165.6" y="701.8" transform="rotate(0 165.6 701.8)" style="font-family:&quot;Liberation Serif&quot;,serif;font-size:8.5px;font-weight:bold;" fill="#111" textLength="22.2" lengthAdjust="spacingAndGlyphs">Posn</text>
<text x="168.0" y="711.0" transform="rotate(0 168.0 711.0)" style="font-family:&quot;Liberation Serif&quot;,serif;font-size:9.5px;" fill="#111" textLength="24.6" lengthAdjust="spacingAndGlyphs" stroke="#111" stroke-width="0.2">0915</text>
<text x="73.1" y="709.9" transform="rotate(0 73.1 709.9)" style="font-family:&quot;Liberation Serif&quot;,serif;font-size:9.5px;" fill="#111" textLength="24.4" lengthAdjust="spacingAndGlyphs" stroke="#111" stroke-width="0.2">0915</text>
<text x="51.9" y="719.3" transform="rotate(0 51.9 719.3)" style="font-family:&quot;Liberation Serif&quot;,serif;font-size:8.4px;font-weight:bold;" fill="#111" textLength="79.0" lengthAdjust="spacingAndGlyphs">Transferred PL1</text>
<text x="205.6" y="749.7" transform="rotate(0 205.6 749.7)" style="font-family:&quot;Liberation Serif&quot;,serif;font-size:8.8px;font-weight:bold;" fill="#111" textLength="24.8" lengthAdjust="spacingAndGlyphs">Set &amp;</text>
<text x="213.8" y="759.3" transform="rotate(0 213.8 759.3)" style="font-family:&quot;Liberation Serif&quot;,serif;font-size:8.8px;font-weight:bold;" fill="#111" textLength="22.8" lengthAdjust="spacingAndGlyphs">Drift</text>
<text x="163.3" y="768.3" transform="rotate(0 163.3 768.3)" style="font-family:&quot;Liberation Serif&quot;,serif;font-size:9.5px;" fill="#111" textLength="23.7" lengthAdjust="spacingAndGlyphs" stroke="#111" stroke-width="0.2">0915</text>
<text x="507.0" y="660.7" transform="rotate(0 507.0 660.7)" style="font-family:&quot;Liberation Sans&quot;,serif;font-size:8.7px;" fill="#111" textLength="23.7" lengthAdjust="spacingAndGlyphs">0800</text>
<text x="372.8" y="780.0" transform="rotate(0 372.8 780.0)" style="font-family:&quot;Liberation Sans&quot;,serif;font-size:8.7px;font-weight:bold;" fill="#111" textLength="24.2" lengthAdjust="spacingAndGlyphs">0830</text>
<text x="243.5" y="714.5" transform="rotate(-24.5 243.5 714.5)" style="font-family:&quot;Liberation Serif&quot;,serif;font-size:8.6px;font-weight:bold;font-style:italic;" fill="#111" textLength="25.5" lengthAdjust="spacingAndGlyphs">CMG</text>
<text x="276.0" y="700.0" transform="rotate(-24.5 276.0 700.0)" style="font-family:&quot;Liberation Serif&quot;,serif;font-size:8.6px;font-weight:bold;font-style:italic;" fill="#111" textLength="25.0" lengthAdjust="spacingAndGlyphs">DMG</text>
<text x="307.0" y="713.5" transform="rotate(-33.9 307.0 713.5)" style="font-family:&quot;Liberation Serif&quot;,serif;font-size:8.6px;font-weight:bold;font-style:italic;" fill="#111" textLength="22.3" lengthAdjust="spacingAndGlyphs">CTS</text>
<text x="340.5" y="694.0" transform="rotate(-32.8 340.5 694.0)" style="font-family:&quot;Liberation Serif&quot;,serif;font-size:8.6px;font-weight:bold;font-style:italic;" fill="#111" textLength="48.9" lengthAdjust="spacingAndGlyphs">Eng Dist</text>
<line x1="23" y1="793.7" x2="568" y2="796.8" stroke="#0d0d0d" stroke-width="2.5"/>
<line x1="23" y1="796.4" x2="568" y2="799.5" stroke="#555" stroke-width="0.9" stroke-dasharray="6 2"/>
<text x="24.0" y="809.0" transform="rotate(0.3 24.0 809.0)" style="font-family:&quot;Liberation Serif&quot;,serif;font-size:11.5px;" fill="#1c2f3d" textLength="77.3" lengthAdjust="spacingAndGlyphs">By Capt.Martins</text>
<text x="528.9" y="812.0" transform="rotate(0 528.9 812.0)" style="font-family:&quot;Liberation Serif&quot;,serif;font-size:11.5px;" fill="#1a1a1a" textLength="37.0" lengthAdjust="spacingAndGlyphs">Page 20</text>
<g stroke="#111" fill="none" stroke-width="1.3" stroke-linecap="round" stroke-linejoin="round">
<path d="M466,816.3 C467.5,814.3 470.3,815 469.8,817.3 C469.3,819.5 467,821 468.5,822.8 C470,824.3 473,823.5 474.8,822.3"/>
<path d="M479.3,801 L476.3,808.5 C475.8,811 475.5,812.5 476,813.5 C478.5,812.3 480.8,814 480,817 C479.3,819.5 477,821 475,820.3"/>
<path d="M479.3,801 L487.7,823.8"/>
<path d="M489.2,809.9 L488.2,813.8 L492.7,811.4 M491.7,808.9 L494.7,817.8"/>
</g>
</svg></body></html>
